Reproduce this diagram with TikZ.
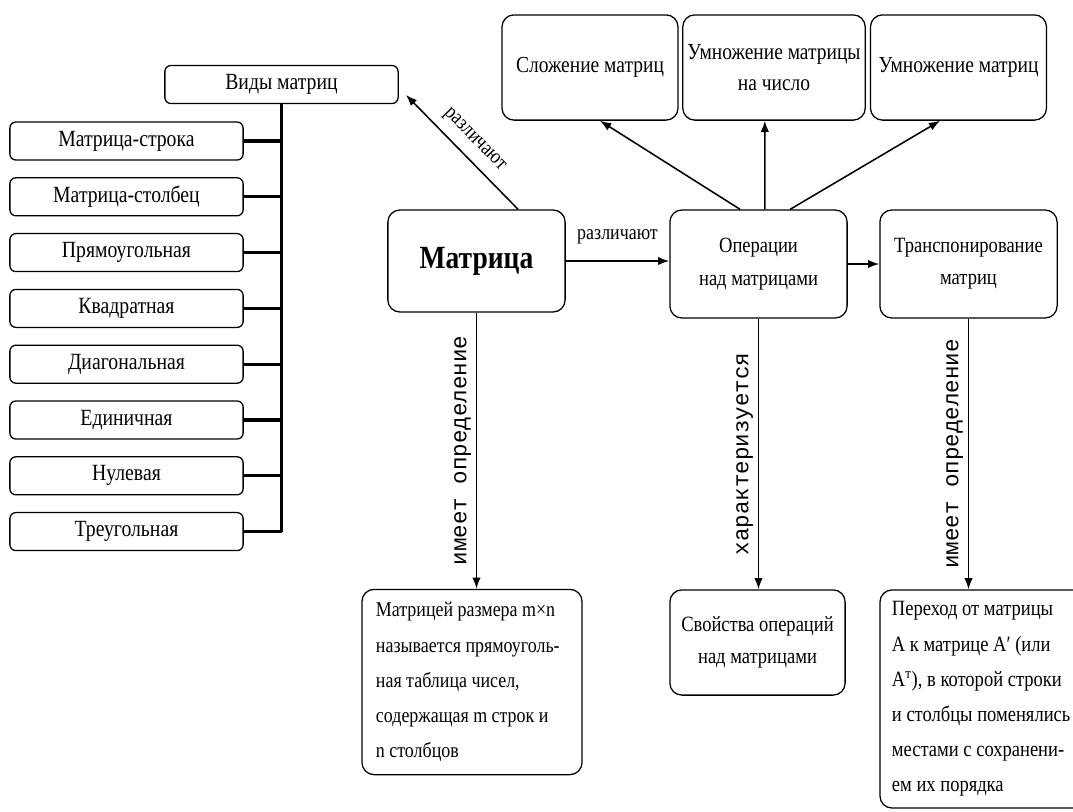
\documentclass[tikz,border=0pt]{standalone}
\usepackage{fontspec}
\usetikzlibrary{arrows.meta}
\setmainfont[FakeStretch=0.85]{Liberation Serif}
\newfontfamily\labfont{Liberation Mono}
\tikzset{
  box/.style={draw,rounded corners=0.3cm,line width=0.9pt,align=center,font=\fontsize{15.5}{23}\selectfont},
  kind/.style={box,rounded corners=0.15cm,minimum width=5.83cm,minimum height=0.95cm,inner sep=0pt,font=\fontsize{16.5}{20}\selectfont},
  opbox/.style={box,minimum width=4.4cm,minimum height=2.63cm,font=\fontsize{16.3}{22}\selectfont},
  trunk/.style={line width=2.2pt},
  arr/.style={-{Latex[length=8pt,width=6pt]},line width=1.1pt},
  lab/.style={font=\labfont\fontsize{16}{18}\selectfont},
  hlab/.style={font=\fontsize{15}{18}\selectfont}
}
\begin{document}
\begin{tikzpicture}[x=0.025cm,y=-0.025cm]
\useasboundingbox(0,0)rectangle(1073,811);
\clip(0,0)rectangle(1073,811);
\node[kind](vid)at(281.5,84.5){Виды матриц};
\foreach \t[count=\i] in {Матрица-строка,Матрица-столбец,Прямоугольная,Квадратная,Диагональная,Единичная,Нулевая,Треугольная}
  \node[kind](l\i)at(126.5,{141+55.8*(\i-1)}){\t};
\draw[trunk](vid.south)--(vid.south|-l8.east);
\foreach \i in {1,...,8}{\draw[trunk](l\i.east)--(l\i.east-|vid.south);}
% main row
\node[box,minimum width=4.43cm,minimum height=2.55cm,font=\fontsize{23}{26}\selectfont\bfseries](mat)at(476.5,261){Матрица};
\node[box,minimum width=4.43cm,minimum height=2.7cm](ops)at(758.5,264){Операции\\над матрицами};
\node[box,minimum width=4.43cm,minimum height=2.7cm](tr)at(968.5,264){Транспонирование\\матриц};
% operations
\node[opbox](add)at(590,67.5){Сложение матриц};
\node[opbox](num)at(774,67.5){Умножение матрицы\\на число};
\node[opbox](mul)at(958.5,67.5){Умножение матриц};
% definitions
\node[box,align=flush left,text width=4.8cm,inner xsep=0.35cm,minimum height=4.63cm,font=\fontsize{15}{25}\selectfont](def)at(472,682){Матрицей размера m×n\\называется прямоуголь-\\ная таблица чисел,\\содержащая m строк и\\n столбцов};
\node[box,minimum width=4.38cm,minimum height=2.63cm](prop)at(757.5,642.5){Свойства операций\\над матрицами};
\node[box,align=flush left,text width=5cm,inner xsep=0.3cm,minimum height=5.45cm,font=\fontsize{15.5}{25}\selectfont](trd)at(992,699){Переход от матрицы\\А к матрице А′ (или\\А\textsuperscript{т}), в которой строки\\и столбцы поменялись\\местами с сохранени-\\ем их порядка};
\draw[arr]([xshift=1.04cm]mat.north)--node[sloped,above=3pt,hlab]{различают}([xshift=0.18cm,yshift=-0.26cm]vid.east);
\draw[arr](mat.east)--node[above=0.3cm,hlab]{различают}(mat.east-|ops.west);
\draw[arr](ops.east)--(tr.west);
\draw[arr]([xshift=-0.46cm]ops.north)--([xshift=0.25cm]add.south);
\draw[arr]([xshift=0.16cm]ops.north)--([xshift=-0.23cm]num.south);
\draw[arr]([xshift=0.79cm]ops.north)--([xshift=-0.46cm]mul.south);
\draw[arr](mat.south)--node[rotate=90,anchor=south,lab]{имеет определение}(mat.south|-def.north);
\draw[arr](ops.south)--node[rotate=90,anchor=south,lab]{характеризуется}(ops.south|-prop.north);
\draw[arr](tr.south)--node[rotate=90,anchor=south,lab]{имеет определение}(tr.south|-trd.north);
\end{tikzpicture}
\end{document}
